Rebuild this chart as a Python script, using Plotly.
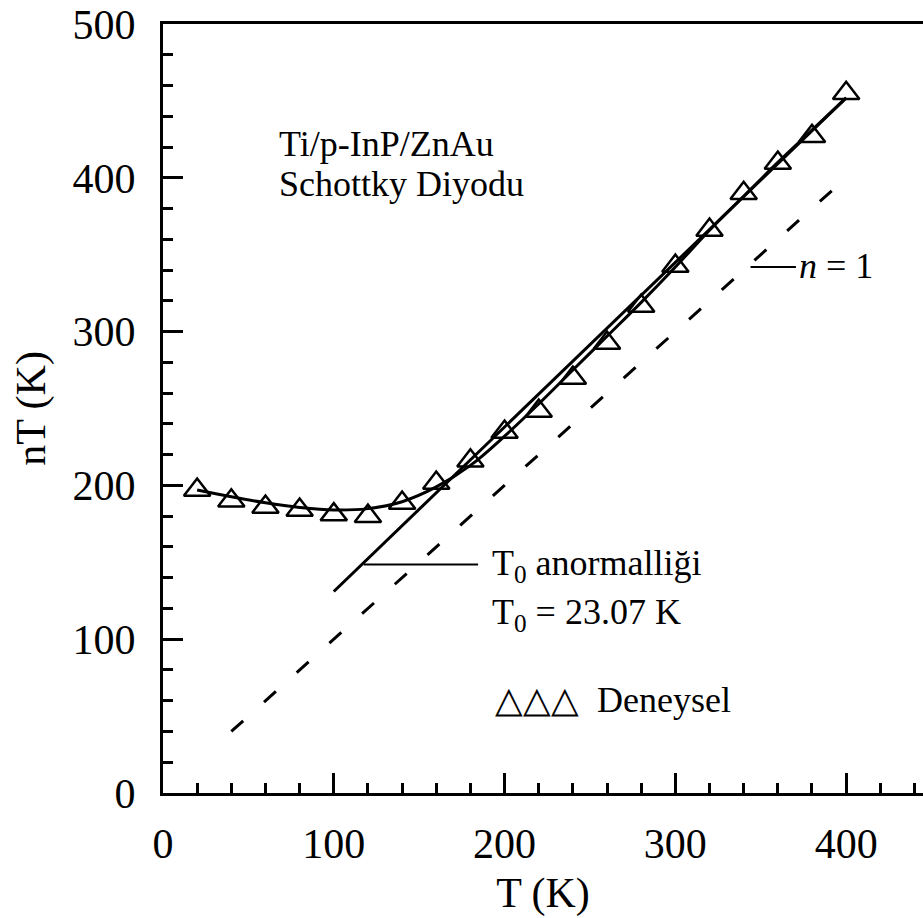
import plotly.graph_objects as go

# ---- data ----
T_exp = [20, 40, 60, 80, 100, 120, 140, 160, 180, 200, 220, 240, 260, 280, 300, 320, 340, 360, 380, 400]
nT_exp = [197, 190, 186, 184, 181, 180, 188.5, 201.5, 216, 234.7, 248.4, 269.8, 292.6, 316.6, 342.6, 366, 390, 409.6, 427, 455]

nT_fit = [197, 192.6, 188.7, 185.7, 184, 184.9, 189.4, 199, 213, 232, 253, 275, 297, 319, 342, 366, 388, 410, 431, 452]

T_lin = [100, 400]
nT_lin = [131, 452]

T_n1 = [40, 400]
nT_n1 = [40, 400]

lead_T0_x = [117.6, 184.5]
lead_T0_y = [148.5, 148.5]
lead_n1_x = [344, 370.6]
lead_n1_y = [342, 342]

FONT = "Liberation Serif"

fig = go.Figure()
fig.add_trace(go.Scatter(x=T_n1, y=nT_n1, mode="lines",
                         line=dict(color="black", width=3, dash="16px,28px")))
fig.add_trace(go.Scatter(x=T_lin, y=nT_lin, mode="lines",
                         line=dict(color="black", width=3)))
fig.add_trace(go.Scatter(x=T_exp, y=nT_fit, mode="lines",
                         line=dict(color="black", width=3, shape="spline")))
fig.add_trace(go.Scatter(x=T_exp, y=nT_exp, mode="markers",
                         marker=dict(symbol="triangle-up-open", size=23, color="black",
                                     line=dict(width=2.5, color="black"))))
fig.add_trace(go.Scatter(x=lead_T0_x, y=lead_T0_y, mode="lines",
                         line=dict(color="black", width=2)))
fig.add_trace(go.Scatter(x=lead_n1_x, y=lead_n1_y, mode="lines",
                         line=dict(color="black", width=2)))

ann_font = dict(family=FONT, size=36, color="black")
anns = [
    dict(x=66.5, y=422, text="Ti/p-InP/ZnAu"),
    dict(x=66.5, y=396, text="Schottky Diyodu"),
    dict(x=191.5, y=147.6, text="T<sub>0</sub> anormalliği"),
    dict(x=191.5, y=116, text="T<sub>0</sub> = 23.07 K"),
    dict(x=193, y=60.5, text="△△△  Deneysel"),
    dict(x=371.5, y=342.6, text="<i>n</i> = 1"),
]
for a in anns:
    fig.add_annotation(x=a["x"], y=a["y"], text=a["text"], xref="x", yref="y",
                       xanchor="left", yanchor="middle", showarrow=False, font=ann_font)

axis_common = dict(
    showgrid=False, zeroline=False, showline=True, linecolor="black", linewidth=3,
    ticks="inside", ticklen=20, tickwidth=3, tickcolor="black",
    tickfont=dict(family=FONT, size=42, color="black"),
)

fig.update_xaxes(range=[0, 445], tickvals=[0, 100, 200, 300, 400], mirror=True,
                 minor=dict(dtick=20, tick0=0, ticks="inside", ticklen=10, tickwidth=3, tickcolor="black"),
                 title=dict(text="T (K)", font=dict(family=FONT, size=42, color="black"), standoff=12),
                 ticklabelstandoff=12,
                 **axis_common)
fig.update_yaxes(range=[0, 500], tickvals=[0, 100, 200, 300, 400, 500],
                 minor=dict(dtick=20, tick0=0, ticks="inside", ticklen=10, tickwidth=3, tickcolor="black"),
                 title=dict(text="nT (K)", font=dict(family=FONT, size=42, color="black"), standoff=14),
                 ticklabelstandoff=16,
                 **axis_common)

fig.update_layout(
    width=923, height=918,
    margin=dict(l=163, r=0, t=24, b=125),
    plot_bgcolor="white", paper_bgcolor="white",
    showlegend=False,
)

fig.write_html("out.html")
